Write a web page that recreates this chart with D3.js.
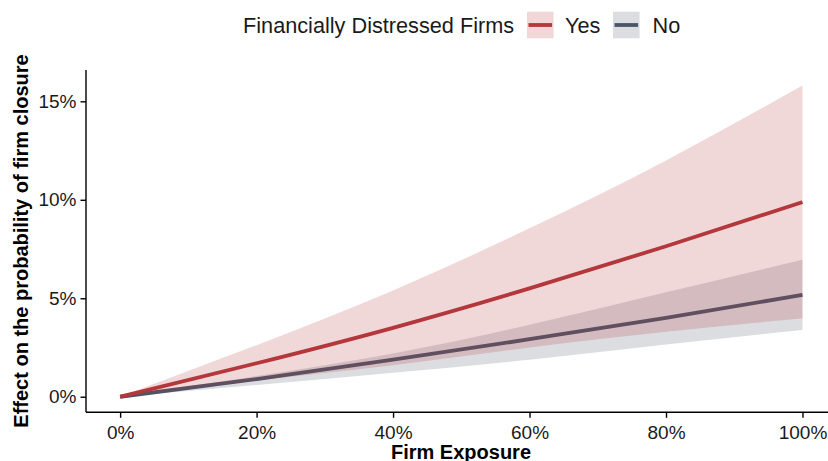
<!DOCTYPE html>
<html>
<head>
<meta charset="utf-8">
<script src="https://cdn.jsdelivr.net/npm/d3@7"></script>
<style>
  html, body { margin: 0; padding: 0; background: #fff; }
  svg { display: block; font-family: "Liberation Sans", Arial, sans-serif; }
</style>
</head>
<body>
<svg id="chart" width="828" height="461"></svg>
<script>
// Firm exposure grid (share of exposure)
const exposure = [0, 0.2, 0.4, 0.6, 0.8, 1.0];

// Financially distressed firms: fitted effect and confidence band
const yesFit   = [0, 0.0170, 0.0350, 0.0550, 0.0764, 0.0988];
const yesLower = [0, 0.0082, 0.0160, 0.0250, 0.0330, 0.0399];
const yesUpper = [0, 0.0262, 0.0540, 0.0855, 0.1200, 0.1580];

// Non-distressed firms: fitted effect and confidence band
const noFit   = [0, 0.0090, 0.0188, 0.0292, 0.0400, 0.0517];
const noLower = [0, 0.0060, 0.0122, 0.0188, 0.0265, 0.0339];
const noUpper = [0, 0.0105, 0.0220, 0.0365, 0.0530, 0.0695];

const groups = ["Yes", "No"];
const xTicks = [0, 0.2, 0.4, 0.6, 0.8, 1.0];
const yTicks = [0, 0.05, 0.10, 0.15];

const colors = { Yes: "#B3373B", No: "#4A5568" };
const bandAlpha = 0.2;

const svg = d3.select("#chart");

const x = d3.scaleLinear().domain([-0.05, 1.05]).range([86, 836.6]);
const y = d3.scaleLinear().domain([-0.0079, 0.1659]).range([412.3, 70]);

const pct = d3.format(".0%");

function rows(fit, lo, hi) {
  return exposure.map((e, i) => ({ x: e, fit: fit[i], lo: lo[i], hi: hi[i] }));
}
const series = {
  Yes: rows(yesFit, yesLower, yesUpper),
  No: rows(noFit, noLower, noUpper)
};

const area = d3.area()
  .x(d => x(d.x)).y0(d => y(d.lo)).y1(d => y(d.hi))
  .curve(d3.curveNatural);
const line = d3.line()
  .x(d => x(d.x)).y(d => y(d.fit))
  .curve(d3.curveNatural);

const plot = svg.append("g");

// Non-distressed band and line first, distressed band and line on top
["No", "Yes"].forEach(g => {
  plot.append("path")
    .datum(series[g])
    .attr("d", area)
    .attr("fill", colors[g])
    .attr("fill-opacity", bandAlpha);
  plot.append("path")
    .datum(series[g])
    .attr("d", line)
    .attr("fill", "none")
    .attr("stroke", colors[g])
    .attr("stroke-width", 3.8)
    .attr("stroke-linecap", "butt");
});

// Axes
const xAxis = d3.axisBottom(x).tickValues(xTicks).tickFormat(pct).tickSizeOuter(0).tickSize(5.5).tickPadding(4);
const yAxis = d3.axisLeft(y).tickValues(yTicks).tickFormat(pct).tickSizeOuter(0).tickSize(5.5).tickPadding(4);

const gx = svg.append("g").attr("transform", "translate(0,412.3)").call(xAxis);
const gy = svg.append("g").attr("transform", "translate(86,0)").call(yAxis);

[gx, gy].forEach(g => {
  g.select(".domain").attr("stroke", "#000").attr("stroke-width", 1.4);
  g.selectAll(".tick line").attr("stroke", "#000").attr("stroke-width", 1.4);
  g.selectAll(".tick text").attr("fill", "#1a1a1a").attr("font-size", 19)
    .attr("font-family", "'Liberation Sans', Arial, sans-serif");
});
gx.select(".domain").attr("d", `M86,0H828`);
gy.select(".domain").attr("d", `M0,${y.range()[0]}V70`);
gx.selectAll(".tick text").attr("dy", "0.92em");

// Axis titles (the x title sits on the bottom edge of the frame)
svg.append("text")
  .attr("x", 461).attr("y", 459)
  .attr("text-anchor", "middle")
  .attr("font-size", 20).attr("font-weight", "bold")
  .attr("fill", "#000")
  .text("Firm Exposure");

svg.append("text")
  .attr("transform", "translate(28,241) rotate(-90)")
  .attr("text-anchor", "middle")
  .attr("font-size", 20).attr("font-weight", "bold")
  .attr("fill", "#000")
  .text("Effect on the probability of firm closure");

// Legend
const legend = svg.append("g");
legend.append("text")
  .attr("x", 243).attr("y", 33.3)
  .attr("font-size", 21.7).attr("fill", "#1a1a1a")
  .text("Financially Distressed Firms");

const keyX = { Yes: 527, No: 613 };
const labelX = { Yes: 565, No: 652.5 };
groups.forEach(g => {
  legend.append("rect")
    .attr("x", keyX[g]).attr("y", 11.7).attr("width", 26.6).attr("height", 26.6)
    .attr("fill", colors[g]).attr("fill-opacity", bandAlpha);
  legend.append("line")
    .attr("x1", keyX[g] + 1.5).attr("x2", keyX[g] + 25.1)
    .attr("y1", 25).attr("y2", 25)
    .attr("stroke", colors[g]).attr("stroke-width", 3.8);
  legend.append("text")
    .attr("x", labelX[g]).attr("y", 33.3)
    .attr("font-size", 21.7).attr("fill", "#1a1a1a")
    .text(g);
});
</script>
</body>
</html>
